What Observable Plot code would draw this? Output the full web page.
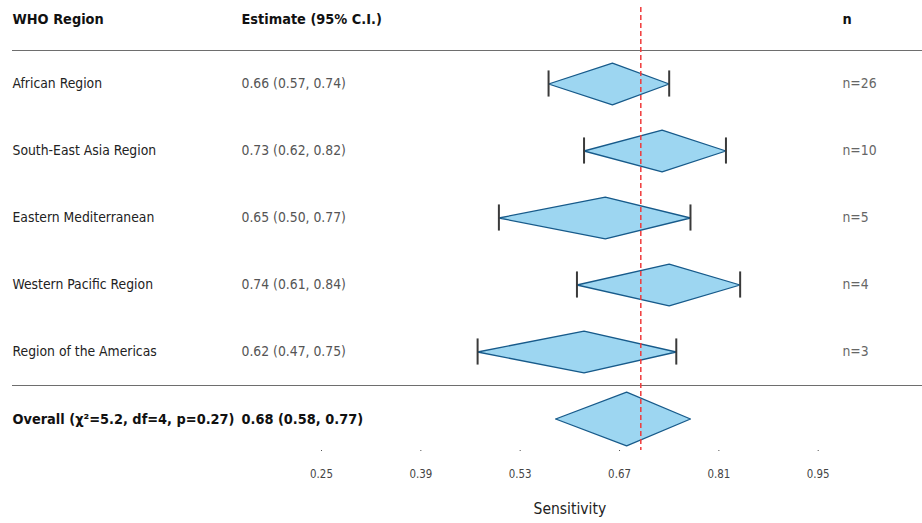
<!DOCTYPE html>
<html>
<head>
<meta charset="utf-8">
<script src="https://cdn.jsdelivr.net/npm/d3@7"></script>
<script src="https://cdn.jsdelivr.net/npm/@observablehq/plot@0.6"></script>
<style>
  html, body { margin: 0; padding: 0; background: #fff; }
  svg { display: block; }
  svg text { font-family: "DejaVu Sans Condensed", "DejaVu Sans", sans-serif; font-stretch: condensed; }
</style>
</head>
<body>
<div id="chart"></div>
<script>
// ---- data ----
const regions = ["African Region", "South-East Asia Region", "Eastern Mediterranean", "Western Pacific Region", "Region of the Americas"];
const estimates = [0.66, 0.73, 0.65, 0.74, 0.62];
const lower = [0.57, 0.62, 0.50, 0.61, 0.47];
const upper = [0.74, 0.82, 0.77, 0.84, 0.75];
const counts = [26, 10, 5, 4, 3];
const overallLabel = "Overall (χ²=5.2, df=4, p=0.27)";
const overallEstimate = 0.68;
const overallLower = 0.58;
const overallUpper = 0.77;
const referenceValue = 0.70;
const tickValues = [0.25, 0.39, 0.53, 0.67, 0.81, 0.95];
const headers = ["WHO Region", "Estimate (95% C.I.)", "n"];
const axisLabel = "Sensitivity";

// ---- derived tables ----
const fmt = d3.format(".2f");
const rows = regions.map((r, i) => ({
  row: i, label: r, est: estimates[i], lo: lower[i], hi: upper[i], n: counts[i],
  text: `${fmt(estimates[i])} (${fmt(lower[i])}, ${fmt(upper[i])})`
}));
const overall = {row: regions.length, label: overallLabel, est: overallEstimate, lo: overallLower, hi: overallUpper,
  text: `${fmt(overallEstimate)} (${fmt(overallLower)}, ${fmt(overallUpper)})`};

const hRow = 0.313;   // half height of row diamonds (row units)
const hAll = 0.40;    // half height of overall diamond
function diamond(d, h) {
  return [
    {row: d.row, x: d.lo, y: d.row},
    {row: d.row, x: d.est, y: d.row - h},
    {row: d.row, x: d.hi, y: d.row},
    {row: d.row, x: d.est, y: d.row + h},
    {row: d.row, x: d.lo, y: d.row}
  ];
}
const diamondPts = rows.flatMap(d => diamond(d, hRow)).concat(diamond(overall, hAll));
const whiskers = rows.flatMap(d => [{row: d.row, x: d.lo}, {row: d.row, x: d.hi}]);
const headerRow = -0.96;
const nRows = regions.length;

const W = 922, H = 523;
const FONT = "DejaVu Sans Condensed, DejaVu Sans, sans-serif";
const chart = Plot.plot({
  width: W, height: H,
  marginTop: 7, marginBottom: 73, marginLeft: 12, marginRight: 0,
  style: {fontFamily: FONT, background: "#fff"},
  x: {domain: [tickValues[0], tickValues[tickValues.length - 1]], range: [321, 817.7]},
  y: {domain: [0, nRows], range: [83.5, 418.5], axis: null},
  marks: [
    // separator lines
    Plot.ruleY([-0.5, nRows - 0.5], {stroke: "#6e6e6e", strokeWidth: 1.1}),
    // diamonds
    Plot.line(diamondPts, {x: "x", y: "y", z: "row", fill: "#9dd6f1", stroke: "#175a8a", strokeWidth: 1.3, curve: "linear"}),
    // whisker caps
    Plot.ruleX(whiskers, {x: "x", y1: d => d.row - 0.195, y2: d => d.row + 0.195, stroke: "#3a3a3a", strokeWidth: 2}),
    // reference line
    Plot.ruleX([referenceValue], {stroke: "#f03a3a", strokeWidth: 1.5, strokeDasharray: "5,3"}),
    // header texts
    Plot.text([headers[0]], {frameAnchor: "left", dx: 0, y: () => headerRow, text: d => d, fontWeight: "bold", fontSize: 14.4, fill: "#111", textAnchor: "start"}),
    Plot.text([headers[1]], {frameAnchor: "left", dx: 229, y: () => headerRow, text: d => d, fontWeight: "bold", fontSize: 14.4, fill: "#111", textAnchor: "start"}),
    Plot.text([headers[2]], {frameAnchor: "left", dx: 830, y: () => headerRow, text: d => d, fontWeight: "bold", fontSize: 14.4, fill: "#111", textAnchor: "start"}),
    // row texts
    Plot.text(rows, {frameAnchor: "left", dx: 0, y: "row", text: "label", fontSize: 13.8, fill: "#222", textAnchor: "start"}),
    Plot.text(rows, {frameAnchor: "left", dx: 229, y: "row", text: "text", fontSize: 13.8, fill: "#555", textAnchor: "start"}),
    Plot.text(rows, {frameAnchor: "left", dx: 830, y: "row", text: d => `n=${d.n}`, fontSize: 13.8, fill: "#666", textAnchor: "start"}),
    // overall texts
    Plot.text([overall], {frameAnchor: "left", dx: 0, y: "row", text: "label", fontSize: 14.4, fontWeight: "bold", fill: "#111", textAnchor: "start"}),
    Plot.text([overall], {frameAnchor: "left", dx: 229, y: "row", text: "text", fontSize: 14.4, fontWeight: "bold", fill: "#111", textAnchor: "start"}),
    // x axis
    Plot.axisX(tickValues, {anchor: "bottom", tickSize: 1, tickPadding: 18, stroke: "#555", fill: "#444", fontSize: 11.4, tickFormat: d => fmt(d), label: null}),
    Plot.text([axisLabel], {x: () => (tickValues[0] + tickValues[tickValues.length - 1]) / 2, frameAnchor: "bottom", dy: 63, text: d => d, fontSize: 15.5, fill: "#222"})
  ]
});
document.getElementById("chart").appendChild(chart);
</script>
</body>
</html>
